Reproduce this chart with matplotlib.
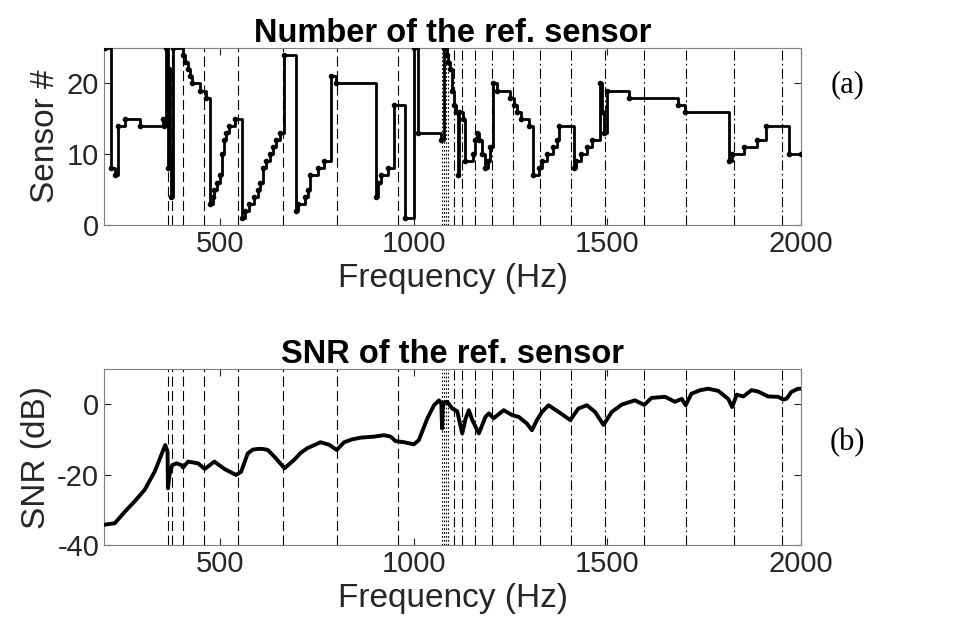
import matplotlib.pyplot as plt
import numpy as np

# sensor chosen as reference (change points of the staircase)
ref_freq = [203, 219, 228, 237, 254, 292, 352, 356, 360, 364, 367, 370, 374, 378,
            404, 410, 416, 422, 428, 448, 463, 473, 481, 485, 492, 499, 505, 511,
            516, 522, 538, 557, 563, 574, 588, 598, 604, 610, 618, 628, 636, 645,
            655, 664, 697, 702, 718, 727, 733, 752, 768, 786, 800, 902, 908, 914,
            933, 950, 976, 1001, 1012, 1071, 1078, 1085, 1089, 1093, 1098, 1103,
            1108, 1113, 1116, 1126, 1132, 1153, 1158, 1163, 1168, 1175, 1184, 1192,
            1198, 1204, 1216, 1248, 1258, 1267, 1276, 1298, 1307, 1322, 1331, 1345,
            1360, 1370, 1376, 1414, 1420, 1432, 1446, 1460, 1482, 1487, 1491, 1499,
            1556, 1682, 1699, 1813, 1822, 1853, 1886, 1910, 1968, 2000]
ref_sensor = [25, 8, 7, 14, 15, 14, 15, 14, 25, 8, 22, 10, 4, 25,
              24, 23, 22, 21, 20, 19, 18, 3, 4, 5, 6, 7, 10, 12,
              13, 14, 15, 1, 2, 3, 4, 5, 6, 8, 9, 10, 11, 12,
              13, 24, 2, 3, 4, 5, 7, 8, 9, 21, 20, 4, 6, 7,
              8, 17, 1, 25, 13, 12, 25, 24, 23, 22, 19, 17,
              16, 7, 16, 15, 9, 10, 12, 13, 12, 10, 8, 9,
              11, 20, 19, 18, 17, 16, 15, 14, 7, 8, 9, 10,
              11, 12, 14, 8, 9, 10, 11, 12, 20, 16, 13, 19,
              18, 17, 16, 9, 10, 11, 12, 14, 10, 10]

# SNR of the reference sensor
snr_freq = [203, 228, 254, 279, 305, 331, 348, 358, 364, 365, 369, 376, 387, 400,
            404, 417, 443, 460, 485, 511, 541, 554, 571, 584, 597, 610, 623, 644, 666, 691,
            708, 725, 759, 781, 801, 820, 840, 863, 898, 923, 940, 953, 975, 1000, 1013, 1035,
            1052, 1065, 1071, 1073, 1075, 1078, 1086, 1099, 1112, 1125, 1134, 1142,
            1151, 1168, 1185, 1194, 1206, 1232, 1254, 1271, 1292, 1305, 1318, 1331,
            1348, 1374, 1404, 1425, 1447, 1468, 1490, 1511, 1537, 1571, 1595, 1614,
            1649, 1674, 1692, 1702, 1717, 1740, 1760, 1786, 1812, 1822, 1834, 1851, 1872,
            1889, 1915, 1941, 1954, 1963, 1975, 1992, 2000]
snr_db = [-34.2, -33.8, -30.5, -27.6, -24.3, -19.1, -14.4, -11.6, -13.5, -23.9, -20.1, -17.3, -16.8, -17.3,
          -18.0, -16.3, -16.8, -18.4, -16.3, -18.4, -20.1, -19.2, -14.0, -12.9, -12.7, -12.7, -13.0, -15.4, -18.2, -15.8,
          -13.8, -12.5, -10.8, -11.5, -13.0, -10.8, -10.0, -9.5, -9.2, -8.8, -9.2, -10.5, -10.8, -11.4, -10.2, -4.0,
          -0.3, 1.1, 0.2, -6.9, -1.0, 0.5, 0.7, -1.2, -2.0, -8.3, -4.0, -1.7,
          -4.5, -8.3, -3.6, -2.6, -4.0, -1.7, -3.1, -3.6, -5.5, -7.4, -4.5, -2.2,
          -0.3, -2.2, -4.5, -1.2, -0.3, -2.2, -5.9, -2.2, -0.1, 1.1, -0.2, 1.8,
          2.1, 0.7, 1.5, -0.3, 3.0, 4.0, 4.4, 3.8, 1.5, -0.8, 2.7, 2.2, 4.0,
          3.6, 2.2, 2.1, 1.3, 1.6, 3.5, 4.4, 4.4]

# marked frequencies
dashed_freqs = [364, 375, 404, 458, 546, 662, 801, 958]
dotted_freqs = [1073, 1077, 1082, 1087]
dashdot_freqs = [1103, 1125, 1159, 1202, 1256, 1325, 1405, 1493, 1595, 1702, 1826, 1951]

plt.rcParams['font.family'] = ['Liberation Sans', 'DejaVu Sans']
plt.rcParams['axes.unicode_minus'] = False
txt = '#262626'

fig = plt.figure(figsize=(9.75, 6.44), dpi=100)
ax1 = fig.add_axes([0.1067, 0.6506, 0.7149, 0.2748])
ax2 = fig.add_axes([0.1067, 0.1537, 0.7149, 0.2733])


def mark_lines(ax):
    for f in dashed_freqs:
        ax.axvline(f, color='k', lw=0.8, linestyle=(0, (9, 4)), zorder=1)
    for f in dotted_freqs:
        ax.axvline(f, color='k', lw=0.8, linestyle=(0, (1.5, 2)), zorder=1)
    for f in dashdot_freqs:
        ax.axvline(f, color='k', lw=0.8, linestyle=(0, (9, 3, 1.5, 3)), zorder=1)


def style(ax):
    ax.set_xlim(200, 2000)
    ax.set_xticks([500, 1000, 1500, 2000])
    ax.tick_params(direction='in', length=5, width=0.8, top=True, right=True,
                   labelsize=21, colors=txt, labelcolor=txt)
    for s in ax.spines.values():
        s.set_color('#7f7f7f')
        s.set_linewidth(0.8)
    ax.set_xlabel('Frequency (Hz)', fontsize=24, color=txt, labelpad=4)


mark_lines(ax1)
ax1.plot(ref_freq, ref_sensor, color='k', lw=2.0, marker='.', ms=6,
         drawstyle='steps-post', zorder=3)
ax1.set_ylim(0, 25)
ax1.set_yticks([0, 10, 20])
style(ax1)
ax1.set_ylabel('Sensor #', fontsize=24, color=txt)
ax1.set_title('Number of the ref. sensor', fontsize=23.5, fontweight='bold', pad=4)

mark_lines(ax2)
ax2.plot(snr_freq, snr_db, color='k', lw=2.8, zorder=3)
ax2.set_ylim(-40, 10)
ax2.set_yticks([-40, -20, 0])
style(ax2)
ax2.set_ylabel('SNR (dB)', fontsize=24, color=txt)
ax2.set_title('SNR of the ref. sensor', fontsize=23.5, fontweight='bold', pad=4)

fig.text(0.869, 0.868, '(a)', fontsize=22, family='Liberation Serif', ha='center', va='center')
fig.text(0.869, 0.312, '(b)', fontsize=22, family='Liberation Serif', ha='center', va='center')

fig.savefig('out.png', dpi=100)
